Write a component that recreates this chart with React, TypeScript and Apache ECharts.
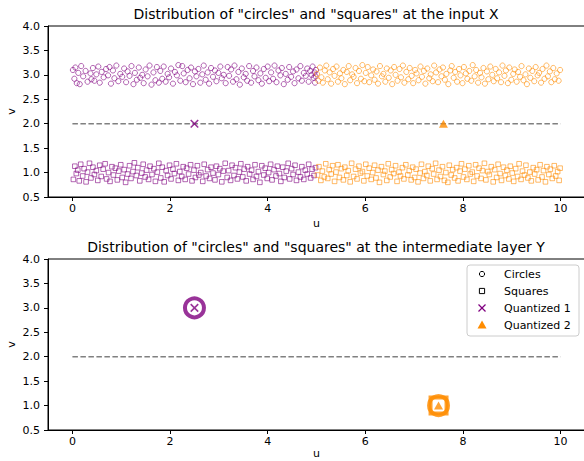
import React, { useEffect, useRef } from "react";
import * as echarts from "echarts";

const PURPLE = "#800080";
const ORANGE = "#ff8c00";
const FONT = "DejaVu Sans";

const xTicks = [0, 2, 4, 6, 8, 10];
const titles = [
  'Distribution of "circles" and "squares" at the input X',
  'Distribution of "circles" and "squares" at the intermediate layer Y',
];
const legendNames = ["Circles", "Squares", "Quantized 1", "Quantized 2"];

const purpleCircles: number[][] = [
  [0.01,3.10],[0.04,2.92],[0.06,3.15],[0.09,2.83],[0.12,3.04],[0.15,2.81],[0.18,3.18],[0.22,2.97],[0.27,3.08],[0.31,2.86],
  [0.37,3.03],[0.39,2.91],[0.42,3.14],[0.45,2.88],[0.49,3.01],[0.53,3.17],[0.56,2.84],[0.60,3.06],[0.64,2.95],[0.69,3.12],
  [0.73,2.99],[0.76,3.16],[0.79,2.82],[0.83,3.09],[0.86,2.93],[0.90,3.19],[0.94,2.87],[0.98,3.02],[1.02,2.96],[1.06,3.13],
  [1.10,2.85],[1.13,3.07],[1.17,2.98],[1.21,3.18],[1.25,2.81],[1.28,3.04],[1.32,2.90],[1.36,3.15],[1.39,2.94],[1.43,3.00],
  [1.46,2.83],[1.50,3.11],[1.54,2.97],[1.58,3.19],[1.62,2.80],[1.66,3.05],[1.70,2.89],[1.73,3.16],[1.77,2.84],[1.80,3.08],
  [1.84,2.92],[1.87,3.17],[1.91,2.86],[1.95,3.02],[1.98,2.95],[2.02,3.13],[2.06,2.82],[2.10,3.06],[2.14,2.99],[2.17,3.20],
  [2.21,2.88],[2.25,3.18],[2.28,3.03],[2.32,2.85],[2.36,3.10],[2.40,2.93],[2.43,3.15],[2.47,2.81],[2.51,3.07],[2.54,2.97],
  [2.58,3.12],[2.62,2.84],[2.66,3.01],[2.69,3.19],[2.73,2.90],[2.77,3.05],[2.80,2.82],[2.84,3.14],[2.88,2.96],[2.92,3.09],
  [2.95,2.87],[2.99,3.04],[3.03,3.17],[3.06,2.93],[3.10,3.00],[3.14,2.83],[3.18,3.16],[3.21,2.98],[3.25,3.11],[3.29,2.86],
  [3.32,3.19],[3.36,2.91],[3.40,3.06],[3.43,2.80],[3.47,3.13],[3.51,2.95],[3.55,3.02],[3.58,2.88],[3.62,3.18],[3.66,2.84],
  [3.70,3.08],[3.73,2.97],[3.77,3.15],[3.81,2.89],[3.85,3.03],[3.88,2.82],[3.92,3.12],[3.96,2.94],[4.00,3.17],[4.03,2.87],
  [4.07,3.05],[4.11,2.92],[4.14,3.19],[4.18,2.85],[4.22,3.09],[4.26,2.99],[4.29,3.14],[4.33,2.81],[4.37,3.02],[4.41,2.90],
  [4.44,3.16],[4.48,2.96],[4.52,3.07],[4.55,2.83],[4.59,3.11],[4.63,2.93],[4.67,3.18],[4.70,2.88],[4.74,3.04],[4.78,2.98],
  [4.81,3.13],[4.84,2.86],[4.87,3.08],[4.90,3.00],[4.92,3.17],[4.94,2.94],[4.96,3.05],[4.97,2.84],[4.99,3.10],[4.98,2.97],
];

const orangeCircles: number[][] = [
  [5.01,3.02],[5.04,2.88],[5.07,3.15],[5.10,2.95],[5.13,2.84],[5.17,3.09],[5.20,3.19],[5.23,2.91],[5.27,3.05],[5.30,2.82],
  [5.34,3.12],[5.37,2.98],[5.41,3.17],[5.44,2.86],[5.48,3.03],[5.51,2.93],[5.55,3.10],[5.58,2.81],[5.62,3.06],[5.66,3.18],
  [5.69,2.89],[5.73,3.01],[5.76,2.96],[5.80,3.14],[5.83,2.83],[5.87,3.08],[5.91,2.92],[5.94,3.20],[5.98,2.87],[6.01,3.04],
  [6.05,3.16],[6.08,2.85],[6.12,2.99],[6.16,3.11],[6.19,2.90],[6.23,3.07],[6.26,2.82],[6.30,3.18],[6.34,2.97],[6.37,3.02],
  [6.41,2.86],[6.44,3.13],[6.48,2.94],[6.52,3.09],[6.55,2.81],[6.59,3.16],[6.62,3.00],[6.66,2.88],[6.70,3.12],[6.73,2.95],
  [6.77,3.19],[6.80,2.84],[6.84,3.06],[6.88,2.91],[6.91,3.14],[6.95,2.98],[6.98,2.83],[7.02,3.10],[7.05,3.03],[7.09,2.89],
  [7.13,3.17],[7.16,2.96],[7.20,3.08],[7.23,2.82],[7.27,3.13],[7.31,2.93],[7.34,3.01],[7.38,2.87],[7.41,3.19],[7.45,3.05],
  [7.49,2.85],[7.52,3.11],[7.56,2.97],[7.59,3.15],[7.63,2.90],[7.66,3.02],[7.70,2.81],[7.74,3.09],[7.77,3.18],[7.81,2.94],
  [7.84,3.06],[7.88,2.86],[7.92,3.12],[7.95,2.99],[7.99,2.83],[8.02,3.16],[8.06,3.03],[8.09,2.92],[8.13,3.08],[8.17,2.88],
  [8.20,3.20],[8.24,2.97],[8.27,3.10],[8.31,2.84],[8.35,3.04],[8.38,2.95],[8.42,3.14],[8.45,2.82],[8.49,3.07],[8.52,2.91],
  [8.56,3.17],[8.60,3.00],[8.63,2.87],[8.67,3.12],[8.70,2.93],[8.74,3.05],[8.78,2.85],[8.81,3.19],[8.85,2.98],[8.88,3.09],
  [8.92,2.83],[8.95,3.15],[8.99,2.90],[9.03,3.02],[9.06,3.11],[9.10,2.86],[9.13,3.06],[9.17,2.96],[9.20,3.18],[9.24,2.89],
  [9.28,3.01],[9.31,2.81],[9.35,3.13],[9.38,2.94],[9.42,3.08],[9.46,2.87],[9.49,3.16],[9.53,2.99],[9.56,3.04],[9.60,2.84],
  [9.63,3.12],[9.67,2.92],[9.71,3.19],[9.74,2.97],[9.78,3.07],[9.81,2.85],[9.85,3.14],[9.88,2.91],[9.92,3.03],[9.96,2.88],[9.99,3.10],
];

const purpleSquares: number[][] = [
  [0.02,0.86],[0.05,1.13],[0.08,0.98],[0.11,1.05],[0.14,0.83],[0.17,1.17],[0.21,0.93],[0.24,1.08],[0.28,0.81],[0.31,1.01],
  [0.35,1.19],[0.38,0.89],[0.42,1.11],[0.45,0.96],[0.49,1.04],[0.52,0.84],[0.56,1.15],[0.59,0.92],[0.63,1.07],[0.67,1.18],
  [0.70,0.87],[0.74,1.00],[0.77,0.82],[0.81,1.12],[0.84,0.95],[0.88,1.09],[0.92,0.85],[0.95,1.03],[0.99,1.16],[1.02,0.90],
  [1.06,1.06],[1.09,0.80],[1.13,0.97],[1.17,1.14],[1.20,0.88],[1.24,1.02],[1.27,1.20],[1.31,0.94],[1.34,1.10],[1.38,0.83],
  [1.42,0.99],[1.45,1.17],[1.49,0.91],[1.52,1.05],[1.56,0.86],[1.59,1.13],[1.63,0.96],[1.67,1.08],[1.70,0.82],[1.74,1.01],
  [1.77,1.19],[1.81,0.89],[1.84,1.11],[1.88,0.81],[1.92,1.04],[1.95,0.94],[1.99,1.15],[2.02,0.87],[2.06,1.07],[2.09,0.98],
  [2.13,1.18],[2.17,0.84],[2.20,1.02],[2.24,0.92],[2.27,1.12],[2.31,0.86],[2.34,1.09],[2.38,0.97],[2.42,1.16],[2.45,0.83],
  [2.49,1.05],[2.52,0.90],[2.56,1.14],[2.59,0.95],[2.63,1.00],[2.67,0.82],[2.70,1.17],[2.74,0.93],[2.77,1.06],[2.81,0.88],
  [2.84,1.11],[2.88,0.99],[2.92,0.85],[2.95,1.13],[2.99,0.96],[3.02,1.08],[3.06,0.81],[3.09,1.03],[3.13,1.19],[3.17,0.90],
  [3.20,1.04],[3.24,0.84],[3.27,1.15],[3.31,0.94],[3.34,1.10],[3.38,0.87],[3.42,1.01],[3.45,1.18],[3.49,0.91],[3.52,1.07],
  [3.56,0.83],[3.59,1.12],[3.63,0.97],[3.67,1.05],[3.70,0.86],[3.74,1.16],[3.77,0.92],[3.81,1.02],[3.84,0.80],[3.88,1.14],
  [3.92,0.95],[3.95,1.09],[3.99,0.88],[4.02,1.00],[4.06,1.17],[4.09,0.85],[4.13,1.06],[4.17,0.93],[4.20,1.13],[4.24,0.98],
  [4.27,0.82],[4.31,1.11],[4.34,0.90],[4.38,1.03],[4.42,1.19],[4.45,0.87],[4.49,1.08],[4.52,0.96],[4.56,1.15],[4.59,0.84],
  [4.63,1.01],[4.67,0.91],[4.70,1.12],[4.74,0.86],[4.77,1.05],[4.81,0.97],[4.84,1.17],[4.88,0.89],[4.91,1.07],[4.95,0.94],[4.98,1.10],
];

const orangeSquares: number[][] = [
  [5.02,0.95],[5.05,1.12],[5.09,0.84],[5.12,1.03],[5.16,0.91],[5.19,1.18],[5.23,0.88],[5.26,1.06],[5.30,0.97],[5.33,1.14],
  [5.37,0.82],[5.40,1.01],[5.44,1.16],[5.47,0.90],[5.51,1.08],[5.55,0.85],[5.58,1.11],[5.62,0.94],[5.65,1.04],[5.69,0.81],
  [5.72,1.19],[5.76,0.92],[5.80,1.07],[5.83,0.87],[5.87,1.13],[5.90,0.99],[5.94,1.02],[5.97,0.83],[6.01,1.17],[6.04,0.93],
  [6.08,1.09],[6.12,0.86],[6.15,1.00],[6.19,1.15],[6.22,0.89],[6.26,1.05],[6.29,0.80],[6.33,1.12],[6.37,0.96],[6.40,1.03],
  [6.44,0.84],[6.47,1.18],[6.51,0.91],[6.54,1.06],[6.58,0.98],[6.62,1.14],[6.65,0.82],[6.69,1.01],[6.72,0.93],[6.76,1.10],
  [6.79,0.87],[6.83,1.16],[6.87,0.95],[6.90,1.04],[6.94,0.85],[6.97,1.11],[7.01,0.90],[7.04,1.07],[7.08,0.81],[7.12,0.99],
  [7.15,1.17],[7.19,0.88],[7.22,1.02],[7.26,0.94],[7.29,1.13],[7.33,0.83],[7.37,1.08],[7.40,0.97],[7.44,1.19],[7.47,0.86],
  [7.51,1.05],[7.54,0.92],[7.58,1.12],[7.62,0.84],[7.65,1.00],[7.69,0.80],[7.72,1.15],[7.76,0.95],[7.79,1.06],[7.83,0.89],
  [7.87,1.10],[7.90,0.83],[7.94,1.03],[7.97,1.18],[8.01,0.91],[8.04,1.07],[8.08,0.86],[8.12,1.14],[8.15,0.97],[8.19,1.01],
  [8.22,0.82],[8.26,1.16],[8.29,0.93],[8.33,1.09],[8.37,0.88],[8.40,1.04],[8.44,1.19],[8.47,0.85],[8.51,1.02],[8.54,0.96],
  [8.58,1.12],[8.62,0.81],[8.65,1.06],[8.69,0.90],[8.72,1.17],[8.76,0.98],[8.79,0.84],[8.83,1.11],[8.87,0.94],[8.90,1.05],
  [8.94,0.87],[8.97,1.13],[9.01,0.99],[9.04,0.82],[9.08,1.08],[9.12,0.92],[9.15,1.18],[9.19,0.86],[9.22,1.03],[9.26,0.95],
  [9.29,1.15],[9.33,0.89],[9.37,1.01],[9.40,0.83],[9.44,1.10],[9.47,0.97],[9.51,1.06],[9.54,0.85],[9.58,1.16],[9.62,0.91],
  [9.65,1.04],[9.69,0.81],[9.72,1.12],[9.76,0.96],[9.79,1.07],[9.83,0.88],[9.87,1.14],[9.90,0.93],[9.94,1.02],[9.97,0.84],[9.99,1.09],
];

const dashedLine: number[][] = [[0, 2], [10, 2]];
const quantized1Input: number[][] = [[2.5, 2.0]];
const quantized2Input: number[][] = [[7.6, 2.0]];
const purpleClusterY: number[][] = [[2.5, 3.0]];
const orangeClusterY: number[][] = [[7.5, 1.0]];
const quantized1Y: number[][] = [[2.5, 3.0]];
const quantized2Y: number[][] = [[7.5, 1.0]];

const X_PATH = "path://M0,0L10,10M10,0L0,10";

function buildOption(): any {
  const axisText = { fontFamily: FONT, fontSize: 11, color: "#000" };
  const grids = [
    { left: 48, top: 26, width: 537, height: 171 },
    { left: 48, top: 259, width: 537, height: 171 },
  ].map((g) => ({
    ...g,
    show: true,
    borderColor: "#000",
    borderWidth: 1,
    backgroundColor: "transparent",
    containLabel: false,
    outerBoundsMode: "none",
  }));

  const xAxis = [0, 1].map((i) => ({
    gridIndex: i,
    type: "value",
    min: -0.5,
    max: 10.5,
    name: "u",
    nameLocation: "middle",
    nameGap: i === 0 ? 21 : 18,
    nameMoveOverlap: false,
    nameTextStyle: axisText,
    axisLine: { show: true, onZero: false, lineStyle: { color: "#000", width: 1 } },
    axisTick: { show: true, customValues: xTicks, length: 4, lineStyle: { color: "#000" } },
    axisLabel: { customValues: xTicks, margin: 6, ...axisText },
    splitLine: { show: false },
  }));

  const yAxis = [0, 1].map((i) => ({
    gridIndex: i,
    type: "value",
    min: 0.5,
    max: 4,
    interval: 0.5,
    name: "v",
    nameLocation: "middle",
    nameGap: 31,
    nameMoveOverlap: false,
    nameTextStyle: axisText,
    axisLine: { show: true, onZero: false, lineStyle: { color: "#000", width: 1 } },
    axisTick: { show: true, length: 4, lineStyle: { color: "#000" } },
    axisLabel: { margin: 8, formatter: (v: number) => v.toFixed(1), ...axisText },
    splitLine: { show: false },
  }));

  const dash = (i: number) => ({
    type: "line",
    xAxisIndex: i,
    yAxisIndex: i,
    data: dashedLine,
    symbol: "none",
    lineStyle: { color: "#808080", width: 1.5, type: [5.5, 2.5] },
    z: 1,
  });

  const hollow = (data: number[][], color: string, symbol: string) => ({
    type: "scatter",
    xAxisIndex: 0,
    yAxisIndex: 0,
    data,
    symbol,
    symbolSize: symbol === "rect" ? 4.6 : 5.2,
    itemStyle: { color: "rgba(0,0,0,0)", borderColor: color, borderWidth: 1, opacity: 0.6 },
    z: 2,
  });

  const series: any[] = [
    dash(0),
    hollow(purpleCircles, PURPLE, "circle"),
    hollow(orangeCircles, ORANGE, "circle"),
    hollow(purpleSquares, PURPLE, "rect"),
    hollow(orangeSquares, ORANGE, "rect"),
    {
      type: "scatter", xAxisIndex: 0, yAxisIndex: 0, data: quantized1Input,
      symbol: X_PATH, symbolSize: 7.5,
      itemStyle: { color: "none", borderColor: PURPLE, borderWidth: 1.6 }, z: 5,
    },
    {
      type: "scatter", xAxisIndex: 0, yAxisIndex: 0, data: quantized2Input,
      symbol: "triangle", symbolSize: [9, 8], itemStyle: { color: ORANGE }, z: 5,
    },
    dash(1),
    {
      type: "scatter", xAxisIndex: 1, yAxisIndex: 1, data: purpleClusterY,
      symbol: "circle", symbolSize: 19,
      itemStyle: { color: "rgba(0,0,0,0)", borderColor: PURPLE, borderWidth: 4 }, z: 3,
    },
    {
      type: "scatter", xAxisIndex: 1, yAxisIndex: 1, data: orangeClusterY,
      symbol: "circle", symbolSize: 19,
      itemStyle: { color: "rgba(0,0,0,0)", borderColor: ORANGE, borderWidth: 4 }, z: 3,
    },
    {
      type: "scatter", xAxisIndex: 1, yAxisIndex: 1, data: orangeClusterY,
      symbol: "rect", symbolSize: 16,
      itemStyle: { color: "rgba(0,0,0,0)", borderColor: ORANGE, borderWidth: 4 }, z: 3,
    },
    {
      type: "scatter", xAxisIndex: 1, yAxisIndex: 1, data: quantized1Y,
      symbol: X_PATH, symbolSize: 7.5,
      itemStyle: { color: "none", borderColor: PURPLE, borderWidth: 1.6 }, z: 5,
    },
    {
      type: "scatter", xAxisIndex: 1, yAxisIndex: 1, data: quantized2Y,
      symbol: "triangle", symbolSize: [9, 8], itemStyle: { color: ORANGE }, z: 5,
    },
  ];

  const lx = 482;
  const rows = [274, 291, 308, 325];
  const graphic: any[] = [
    {
      type: "text", x: 316, y: 14, z: 10,
      style: { text: titles[0], font: `14px "${FONT}"`, fill: "#000", textAlign: "center", textVerticalAlign: "middle" },
    },
    {
      type: "text", x: 316, y: 247, z: 10,
      style: { text: titles[1], font: `14px "${FONT}"`, fill: "#000", textAlign: "center", textVerticalAlign: "middle" },
    },
    {
      type: "rect", z: 20,
      shape: { x: 467, y: 265, width: 112, height: 71, r: 3 },
      style: { fill: "rgba(255,255,255,0.8)", stroke: "#cccccc", lineWidth: 1 },
    },
    {
      type: "circle", z: 21,
      shape: { cx: lx, cy: rows[0], r: 2.6 },
      style: { fill: "none", stroke: "#000", lineWidth: 1 },
    },
    {
      type: "rect", z: 21,
      shape: { x: lx - 2.6, y: rows[1] - 2.6, width: 5.2, height: 5.2 },
      style: { fill: "none", stroke: "#000", lineWidth: 1 },
    },
    {
      type: "line", z: 21,
      shape: { x1: lx - 3.5, y1: rows[2] - 3.5, x2: lx + 3.5, y2: rows[2] + 3.5 },
      style: { stroke: PURPLE, lineWidth: 1.3 },
    },
    {
      type: "line", z: 21,
      shape: { x1: lx + 3.5, y1: rows[2] - 3.5, x2: lx - 3.5, y2: rows[2] + 3.5 },
      style: { stroke: PURPLE, lineWidth: 1.3 },
    },
    {
      type: "polygon", z: 21,
      shape: { points: [[lx, rows[3] - 4.5], [lx - 4.5, rows[3] + 3.5], [lx + 4.5, rows[3] + 3.5]] },
      style: { fill: ORANGE },
    },
    ...legendNames.map((name, i) => ({
      type: "text", x: 504, y: rows[i], z: 21,
      style: { text: name, font: `11px "${FONT}"`, fill: "#000", textAlign: "left", textVerticalAlign: "middle" },
    })),
  ];

  return {
    animation: false,
    backgroundColor: "#fff",
    grid: grids,
    xAxis,
    yAxis,
    series,
    graphic,
  };
}

export default function App() {
  const ref = useRef<HTMLDivElement>(null);
  useEffect(() => {
    if (!ref.current) return;
    const chart = echarts.init(ref.current, undefined, { renderer: "svg" });
    chart.setOption(buildOption());
    return () => chart.dispose();
  }, []);
  return (
    <div
      ref={ref}
      style={{ position: "absolute", left: 0, top: 0, width: 584, height: 461 }}
    />
  );
}
